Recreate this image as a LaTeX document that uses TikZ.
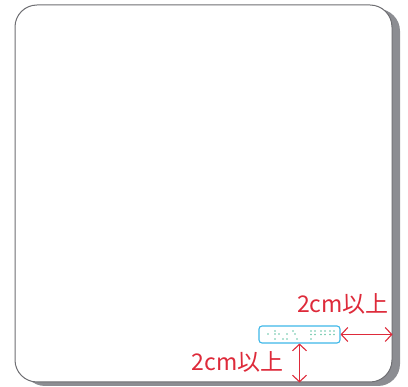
\documentclass[tikz,border=0pt]{standalone}
\usepackage{fontspec}
\usepackage{tikz}
\usetikzlibrary{positioning,arrows.meta}
\newfontfamily\jpfont{Noto Sans CJK JP}
\tikzstyle{sheet} = [x = 1pt, y = -1pt]
\definecolor{cardBorder}{RGB}{110,110,114}
\definecolor{cardShadow}{RGB}{140,141,146}
\definecolor{dimRed}{RGB}{222,42,58}
\definecolor{labelCyan}{RGB}{62,184,232}
\definecolor{dotGreen}{RGB}{105,198,168}
\tikzstyle{cardStyle} = [draw=cardBorder, fill=white, line width=1pt, rounded corners=22pt, minimum width=377pt, minimum height=377pt, inner sep=0pt]
\tikzstyle{shadowStyle} = [fill=cardShadow, rounded corners=22pt, minimum width=377pt, minimum height=377pt, inner sep=0pt]
\tikzstyle{brailleStyle} = [draw=labelCyan, fill=white, line width=1.1pt, rounded corners=3pt, minimum width=81pt, minimum height=17pt, inner sep=0pt]
\tikzstyle{dimArrow} = [color=dimRed, line width=1.1pt, {Straight Barb[length=6.5pt,width=14pt]}-{Straight Barb[length=6.5pt,width=14pt]}]
\tikzstyle{dimText} = [text=dimRed, font=\jpfont\fontsize{23}{23}\selectfont, inner sep=0pt]
\newcommand{\brailleDot}[2]{\fill [dotGreen] (#1, #2) circle (.95pt);}
\begin{document}
\begin{tikzpicture}[sheet]
  \useasboundingbox (0,0) rectangle (408,387);
  \node [shadowStyle] (shadow) at (211.5, 197.5) {};
  \node [cardStyle] (card) at (203.5, 193.5) {};
  \node [brailleStyle] (braille) at (299.5, 334.5) {};
  \foreach \x/\y in {268/334, 275/331, 275/334, 275/339, 279/334, 283/339, 287/334, 287/339, 293/331, 295/334, 297/339} {
    \brailleDot{\x}{\y}
  }
  \foreach \x in {311, 315, 321, 325, 330, 334} {
    \brailleDot{\x}{331}
    \brailleDot{\x}{334.5}
  }
  \brailleDot{311}{339}
  \coordinate (rightEdge) at (braille.east -| card.east);
  \coordinate (bottomEdge) at (braille.south |- card.south);
  \draw [dimArrow] (braille.east) -- (rightEdge);
  \draw [dimArrow] (braille.south) -- (bottomEdge);
  \node [dimText] (rightText) at (343, 304) {2cm以上};
  \node [dimText] (bottomText) at (237.5, 362) {2cm以上};
\end{tikzpicture}
\end{document}
